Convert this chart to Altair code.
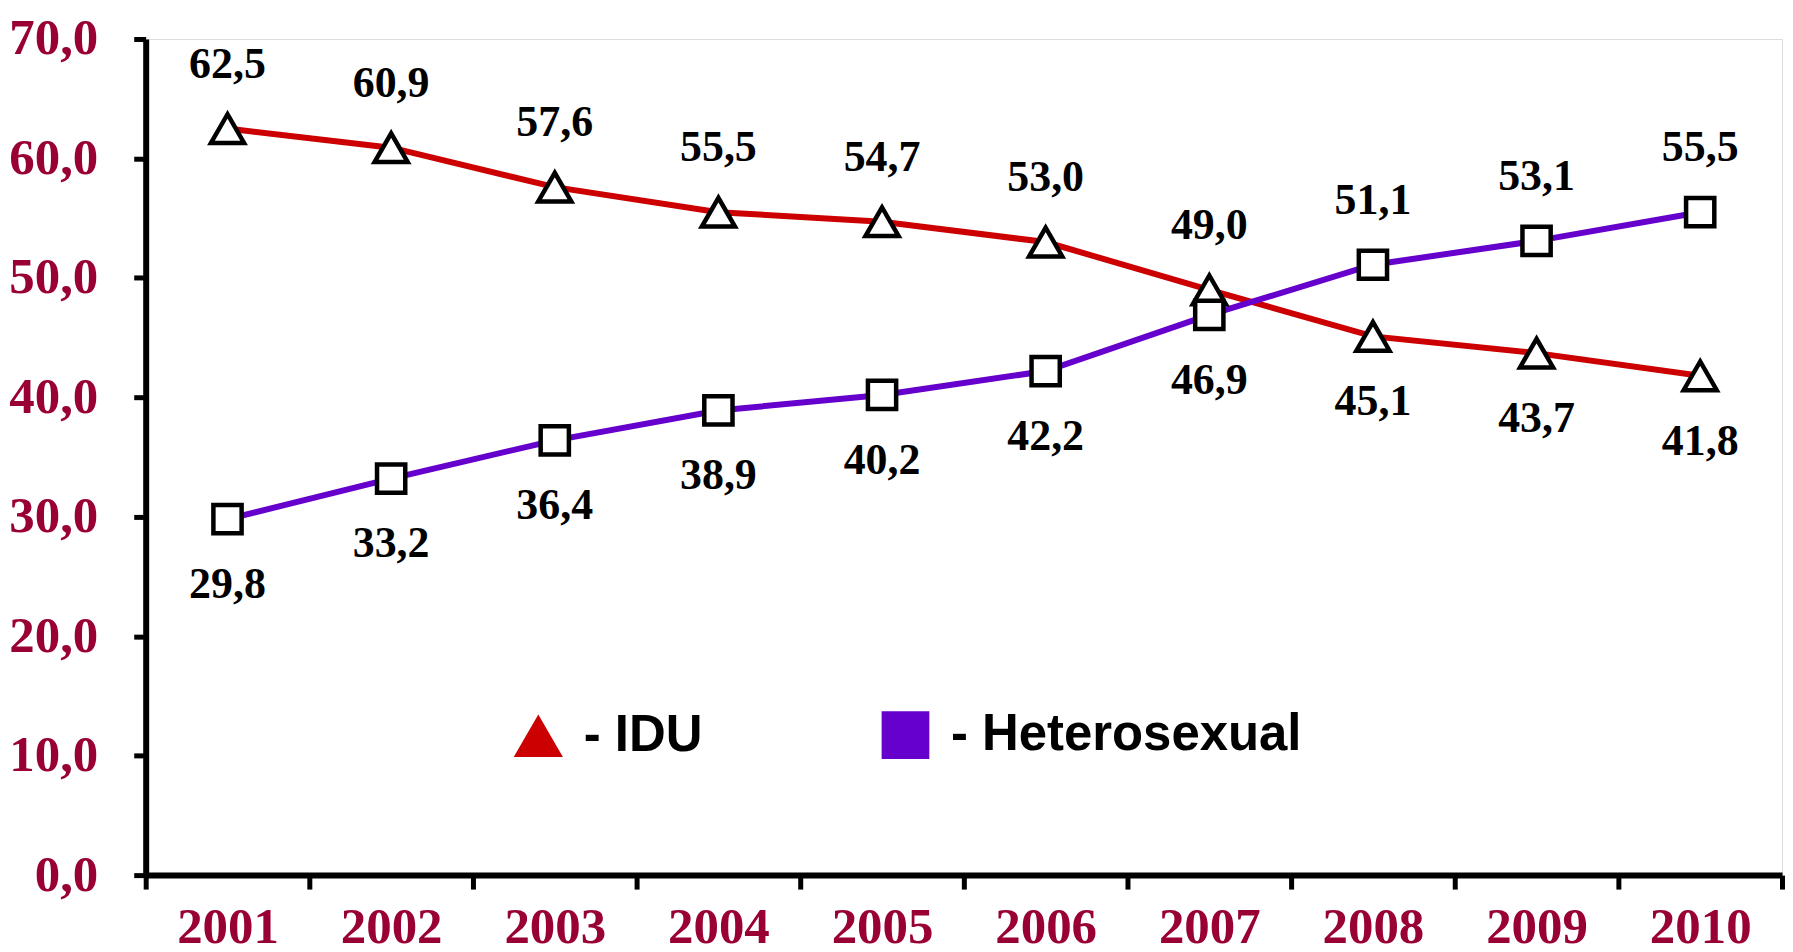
import altair as alt
import pandas as pd

years = ["2001", "2002", "2003", "2004", "2005", "2006", "2007", "2008", "2009", "2010"]
idu = [62.5, 60.9, 57.6, 55.5, 54.7, 53.0, 49.0, 45.1, 43.7, 41.8]
het = [29.8, 33.2, 36.4, 38.9, 40.2, 42.2, 46.9, 51.1, 53.1, 55.5]
series_names = ["IDU", "Heterosexual"]
series_colors = ["#CC0000", "#6600CC"]
series_shapes = ["triangle-up", "square"]
y_ticks = [0, 10, 20, 30, 40, 50, 60, 70]

rows = []
for i, yr in enumerate(years):
    rows.append({"year": yr, "series": "IDU", "value": idu[i], "other": het[i]})
    rows.append({"year": yr, "series": "Heterosexual", "value": het[i], "other": idu[i]})
df = pd.DataFrame(rows)

SERIF = "Liberation Serif"
AXIS_RED = "#990033"

x_enc = alt.X(
    "year:O",
    scale=alt.Scale(type="band", paddingInner=0, paddingOuter=0),
    axis=alt.Axis(
        title=None, labelAngle=0, labelFont=SERIF, labelFontWeight="bold",
        labelFontSize=51, labelColor=AXIS_RED, domainColor="black", domainWidth=6,
        tickColor="black", tickWidth=5, tickSize=14, tickBand="extent",
        labelPadding=14, grid=False,
    ),
)
y_enc = alt.Y(
    "value:Q",
    scale=alt.Scale(domain=[0, 70], nice=False),
    axis=alt.Axis(
        title=None, values=y_ticks,
        labelExpr="replace(format(datum.value, '.1f'), '.', ',')",
        labelFont=SERIF, labelFontWeight="bold", labelFontSize=51, labelColor=AXIS_RED,
        domainColor="black", domainWidth=6, tickColor="black", tickWidth=5, tickSize=12,
        labelPadding=36, grid=False,
    ),
)

base = alt.Chart(df).encode(x=x_enc, y=y_enc)

legend = alt.Legend(
    title=None, orient="none", legendX=368, legendY=672, direction="horizontal",
    labelExpr="'- ' + datum.label", labelFont="Liberation Sans", labelFontWeight="bold",
    labelFontSize=51, labelColor="black", labelLimit=1000, labelOffset=20,
    symbolSize=2100, symbolStrokeColor="black", symbolStrokeWidth=2, symbolOpacity=1,
    columnPadding=176,
)

legend_layer = base.mark_point(filled=True, size=60, stroke="black", strokeWidth=2).encode(
    fill=alt.Fill("series:N", scale=alt.Scale(domain=series_names, range=series_colors), legend=legend),
    shape=alt.Shape("series:N", scale=alt.Scale(domain=series_names, range=series_shapes), legend=legend),
)

lines = base.mark_line(strokeWidth=6).encode(
    stroke=alt.Stroke("series:N", scale=alt.Scale(domain=series_names, range=series_colors), legend=None),
    detail="series:N",
)

markers = base.mark_point(filled=True, fill="white", stroke="black", strokeWidth=4.5, opacity=1).encode(
    shape=alt.Shape("series:N", scale=alt.Scale(domain=series_names, range=series_shapes)),
    size=alt.condition("datum.series == 'IDU'", alt.value(1100), alt.value(800)),
)

labels_base = base.transform_calculate(
    label="replace(format(datum.value, '.1f'), '.', ',')",
    above="datum.value > datum.other",
)
text_above = labels_base.transform_filter("datum.above").mark_text(
    font=SERIF, fontWeight="bold", fontSize=44, color="black", dy=-64, baseline="middle"
).encode(text="label:N")
text_below = labels_base.transform_filter("!datum.above").mark_text(
    font=SERIF, fontWeight="bold", fontSize=44, color="black", dy=66, baseline="middle"
).encode(text="label:N")

chart = alt.layer(legend_layer, lines, markers, text_above, text_below).properties(
    width=1640, height=838, padding={"left": 0, "top": 4, "right": 0, "bottom": 0}
).configure_view(stroke=None).configure(background="white")

chart.save("out.html", embed_options={"renderer": "svg", "actions": False})
